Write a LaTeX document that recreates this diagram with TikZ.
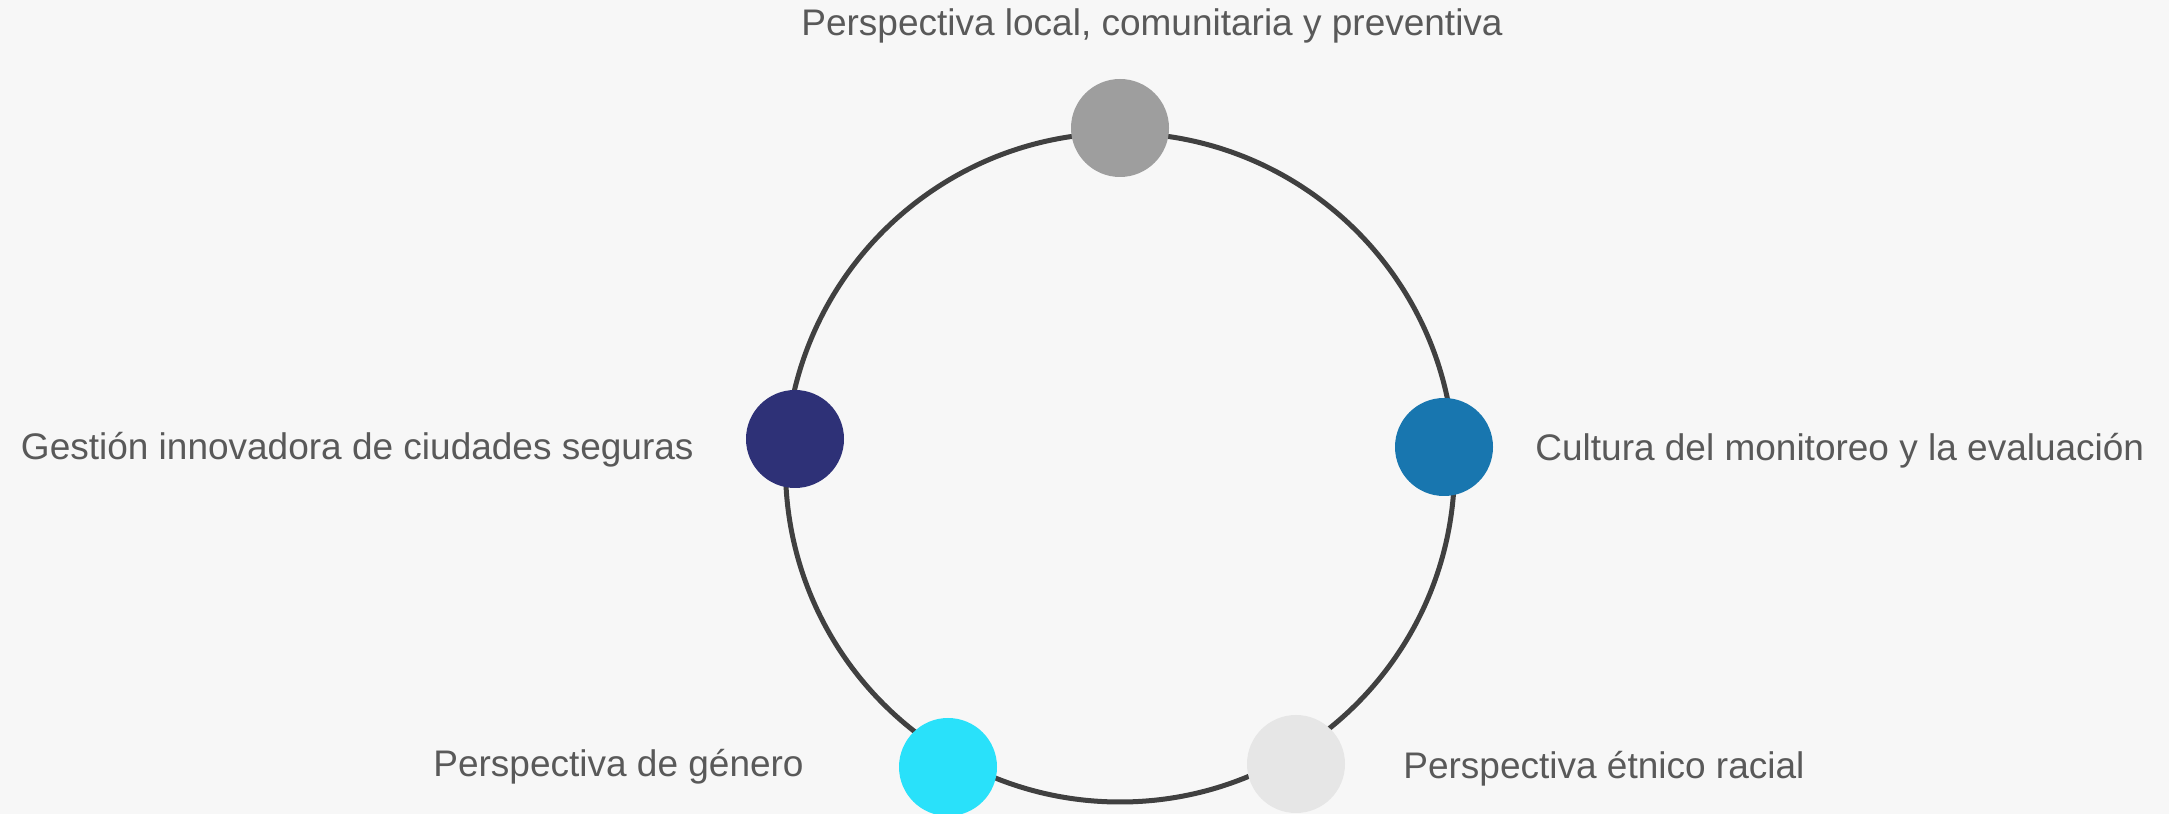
\documentclass[tikz,border=0pt]{standalone}
\usepackage{fontspec}
\setmainfont{Liberation Sans}
\usepackage{xcolor}
\usetikzlibrary{positioning}
\definecolor{paper}{HTML}{F7F7F7}
\definecolor{ring}{HTML}{404040}
\definecolor{txt}{HTML}{595959}
\definecolor{grisdot}{HTML}{9E9E9E}
\definecolor{navydot}{HTML}{2E3177}
\definecolor{bluedot}{HTML}{1876AF}
\definecolor{cyandot}{HTML}{29E1FA}
\definecolor{palidot}{HTML}{E6E6E6}

\begin{document}
\begin{tikzpicture}[x=0.5pt, y=0.5pt,
    dot/.style={circle, minimum size=49pt, inner sep=0pt},
    lbl/.style={inner sep=0pt, text=txt, font=\fontsize{18.5pt}{22pt}\selectfont}]
  % Background
  \fill[paper] (0,0) rectangle (2169,814);
  \useasboundingbox (0,0) rectangle (2169,814);

  % Ring
  \coordinate (mid) at (1120,346.5);
  \draw[ring, line width=2.5pt] (mid) circle (334.5);

  % Dots on the ring
  \foreach \n/\x/\y/\c in {top/1120/686/grisdot, west/795/375/navydot,
      east/1444/367/bluedot, sw/948/47/cyandot, se/1296/50/palidot} {
    \node[dot, fill=\c] (\n) at (\x,\y) {};
  }

  % Labels
  \node[lbl, anchor=base west] (toplbl) at (801,778) {Perspectiva local, comunitaria y preventiva};
  \node[lbl, anchor=base east] (westlbl) at (694,354) {Gestión innovadora de ciudades seguras};
  \node[lbl, anchor=base west] (eastlbl) at (1535,353) {Cultura del monitoreo y la evaluación};
  \node[lbl, anchor=base west] (swlbl) at (433,37) {Perspectiva de género};
  \node[lbl, anchor=base west] (selbl) at (1403,35) {Perspectiva étnico racial};
\end{tikzpicture}
\end{document}
